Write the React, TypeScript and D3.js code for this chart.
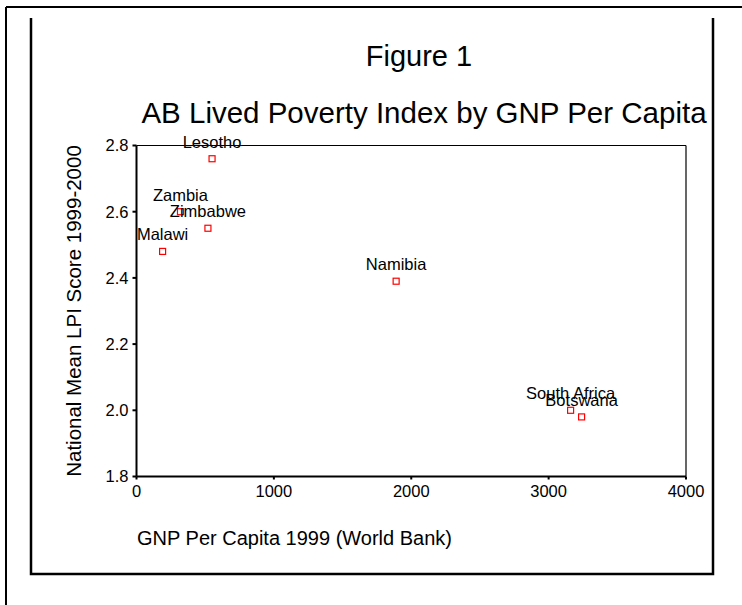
import React from "react";
import * as d3 from "d3";

const countries = ["Lesotho", "Zambia", "Zimbabwe", "Malawi", "Namibia", "South Africa", "Botswana"];
const gnpPerCapita = [550, 320, 520, 190, 1890, 3160, 3240];
const lpiScore = [2.76, 2.6, 2.55, 2.48, 2.39, 2.0, 1.98];
const xTicks = [0, 1000, 2000, 3000, 4000];
const yTicks = [1.8, 2.0, 2.2, 2.4, 2.6, 2.8];

const FONT = "Liberation Sans, Arial, sans-serif";

export default function App() {
  const W = 742, H = 605;
  const x = d3.scaleLinear().domain([0, 4000]).range([136.5, 686]);
  const y = d3.scaleLinear().domain([1.8, 2.8]).range([476.5, 145.5]);
  const [x0, x1] = x.range();
  const [y0, y1] = y.range();
  const fmtY = d3.format(".1f");
  const pts = countries.map((c, i) => ({ c, gx: gnpPerCapita[i], ly: lpiScore[i] }));
  const sq = 6;
  const fs = 16.5;
  return (
    <svg width={W} height={H} style={{ position: "absolute", left: 0, top: 0, background: "#fff" }} fontFamily={FONT}>
      <rect x={0} y={0} width={W} height={H} fill="#fff" />
      {/* outer page lines */}
      <line x1={6} y1={7} x2={W} y2={7} stroke="#000" strokeWidth={2} />
      <line x1={6} y1={7} x2={6} y2={H} stroke="#000" strokeWidth={2} />
      {/* inner box */}
      <path d={`M31,18 V574 H713 V18`} fill="none" stroke="#000" strokeWidth={2.5} />
      {/* titles */}
      <text x={419} y={66} textAnchor="middle" fontSize={29} fill="#000">Figure 1</text>
      <text x={424} y={123} textAnchor="middle" fontSize={29.5} fill="#000">AB Lived Poverty Index by GNP Per Capita</text>
      {/* frame */}
      <line x1={x0} y1={y1} x2={x1} y2={y1} stroke="#000" strokeWidth={1.2} />
      <line x1={x1} y1={y1} x2={x1} y2={y0} stroke="#000" strokeWidth={1.2} />
      <line x1={x0} y1={y0} x2={x1} y2={y0} stroke="#000" strokeWidth={2} />
      <line x1={x0} y1={y0} x2={x0} y2={y1} stroke="#000" strokeWidth={2} />
      {/* y ticks */}
      {yTicks.map((t) => (
        <g key={"y" + t}>
          <line x1={x0 - 4} x2={x0} y1={y(t)} y2={y(t)} stroke="#000" strokeWidth={2} />
          <text x={x0 - 8} y={y(t)} dy="0.36em" textAnchor="end" fontSize={fs} fill="#000">{fmtY(t)}</text>
        </g>
      ))}
      {/* x ticks */}
      {xTicks.map((t) => (
        <g key={"x" + t}>
          <line x1={x(t)} x2={x(t)} y1={y0} y2={y0 + 3} stroke="#000" strokeWidth={2} />
          <text x={x(t)} y={497} textAnchor="middle" fontSize={fs} fill="#000">{t}</text>
        </g>
      ))}
      {/* axis titles */}
      <text x={137} y={545} fontSize={20} fill="#000">GNP Per Capita 1999 (World Bank)</text>
      <text transform={`translate(81,${(y0 + y1) / 2}) rotate(-90)`} textAnchor="middle" fontSize={20.5} fill="#000">
        National Mean LPI Score 1999-2000
      </text>
      {/* points */}
      {pts.map((p) => (
        <g key={p.c}>
          <rect x={x(p.gx) - sq / 2} y={y(p.ly) - sq / 2} width={sq} height={sq} fill="#fff" stroke="#ff0000" strokeWidth={1.2} />
          <text x={x(p.gx)} y={y(p.ly) - 11} textAnchor="middle" fontSize={fs} fill="#000">{p.c}</text>
        </g>
      ))}
    </svg>
  );
}
